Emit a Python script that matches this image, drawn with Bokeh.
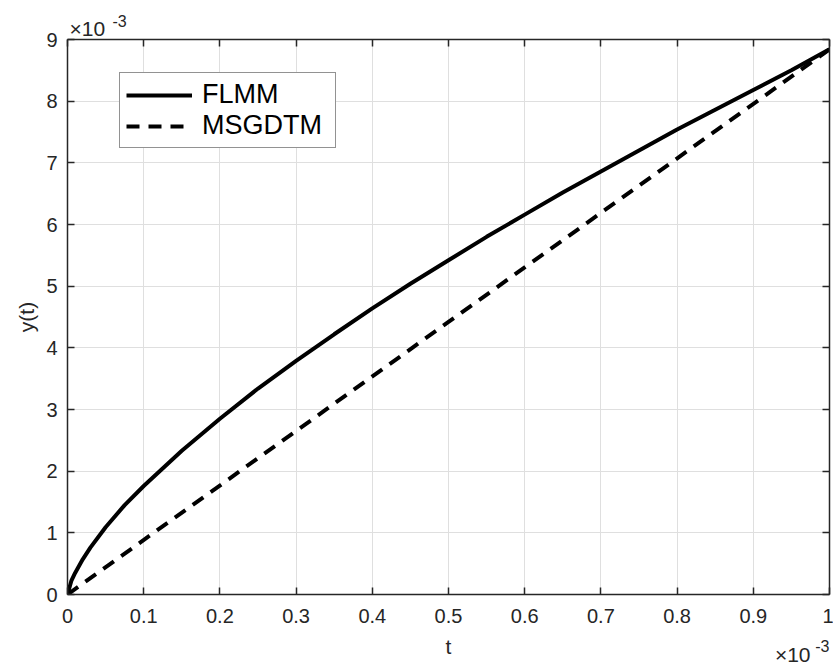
from bokeh.plotting import figure
from bokeh.models import (LinearAxis, FixedTicker, CustomJSTickFormatter, Title,
                          Legend, LegendItem, Range1d)
from bokeh.embed import file_html
from bokeh.resources import INLINE

# values are in units of 1e-3 (axes show a x10^-3 multiplier)
t_flmm = [0, 0.005, 0.01, 0.02, 0.03, 0.05, 0.075, 0.1, 0.15, 0.2, 0.25, 0.3, 0.35,
          0.4, 0.45, 0.5, 0.55, 0.6, 0.65, 0.7, 0.75, 0.8, 0.85, 0.9, 0.95, 1.0]
y_flmm = [0, 0.22, 0.35, 0.57, 0.76, 1.09, 1.45, 1.76, 2.33, 2.85, 3.34, 3.79, 4.22,
          4.64, 5.04, 5.42, 5.80, 6.16, 6.52, 6.86, 7.20, 7.54, 7.86, 8.18, 8.50, 8.84]
t_msgdtm = [0, 0.25, 0.5, 0.75, 1.0]
y_msgdtm = [0, 2.21, 4.42, 6.63, 8.84]
x_ticks = [0, 0.1, 0.2, 0.3, 0.4, 0.5, 0.6, 0.7, 0.8, 0.9, 1.0]
y_ticks = [0, 1, 2, 3, 4, 5, 6, 7, 8, 9]
series_names = ["FLMM", "MSGDTM"]
multiplier = ["×10", "-3"]

FONT = "Liberation Sans"
AX = "#262626"

p = figure(width=833, height=668, output_backend="svg", toolbar_location=None,
           x_range=Range1d(0, 1), y_range=Range1d(0, 9),
           min_border_left=67, min_border_right=4, min_border_top=39,
           min_border_bottom=74)
p.background_fill_color = "white"
p.border_fill_color = "white"
p.outline_line_color = None

fmt = CustomJSTickFormatter(code="return tick.toFixed(1).replace(/\\.0$/, '');")
blank = CustomJSTickFormatter(code="return '';")

for ax, ticks in ((p.xaxis[0], x_ticks), (p.yaxis[0], y_ticks)):
    ax.ticker = FixedTicker(ticks=ticks)
    ax.formatter = fmt
    ax.major_tick_in = 7
    ax.major_tick_out = 0
    ax.minor_tick_line_color = None
    ax.axis_line_color = AX
    ax.axis_line_width = 1.5
    ax.major_tick_line_color = AX
    ax.major_tick_line_width = 1.5
    ax.major_label_text_font = FONT
    ax.major_label_text_font_size = "20px"
    ax.major_label_text_color = AX
    ax.axis_label_text_font = FONT
    ax.axis_label_text_font_size = "21px"
    ax.axis_label_text_font_style = "normal"
    ax.axis_label_text_color = AX

p.xaxis.axis_label = "t"
p.yaxis.axis_label = "y(t)"
p.xaxis.major_label_standoff = 14
p.xaxis.axis_label_standoff = 9
p.yaxis.major_label_standoff = 10
p.yaxis.axis_label_standoff = 5

for loc, ticks in (("above", x_ticks), ("right", y_ticks)):
    ax = LinearAxis(ticker=FixedTicker(ticks=ticks), formatter=blank,
                    major_label_text_font_size="1px",
                    major_label_standoff=0, major_tick_in=7, major_tick_out=0,
                    minor_tick_line_color=None, axis_line_color=AX, axis_line_width=1.5,
                    major_tick_line_color=AX, major_tick_line_width=1.5)
    p.add_layout(ax, loc)

p.xgrid.ticker = FixedTicker(ticks=x_ticks)
p.ygrid.ticker = FixedTicker(ticks=y_ticks)
p.grid.grid_line_color = "#dfdfdf"
p.grid.grid_line_width = 1

r1 = p.line(t_flmm, y_flmm, line_color="black", line_width=4)
r2 = p.line(t_msgdtm, y_msgdtm, line_color="black", line_width=4, line_dash="13 9")

legend = Legend(items=[LegendItem(label=series_names[0], renderers=[r1]),
                       LegendItem(label=series_names[1], renderers=[r2])],
                location=(52, 446), label_text_font=FONT, label_text_font_size="27px",
                label_text_color="black", glyph_width=66, glyph_height=20,
                label_standoff=10, label_width=127, padding=6, spacing=0, margin=0,
                border_line_color=AX, border_line_width=1.5,
                background_fill_color="white", background_fill_alpha=1)
p.add_layout(legend, "center")

# x10^-3 multipliers (top-left for y, bottom-right for t)
def mult(text, size, align, offset, standoff, valign):
    return Title(text=text, align=align, offset=offset, standoff=standoff,
                 vertical_align=valign, text_font=FONT, text_font_size=size,
                 text_font_style="normal", text_color=AX)

p.add_layout(mult(multiplier[0], "21px", "left", 2, -1, "bottom"), "above")
p.add_layout(mult(multiplier[1], "16px", "left", 45, -23, "bottom"), "above")
p.add_layout(mult(multiplier[0], "21px", "right", 19, -36, "top"), "below")
p.add_layout(mult(multiplier[1], "16px", "right", 0, -41, "top"), "below")

open("out.html", "w").write(file_html(p, INLINE))
